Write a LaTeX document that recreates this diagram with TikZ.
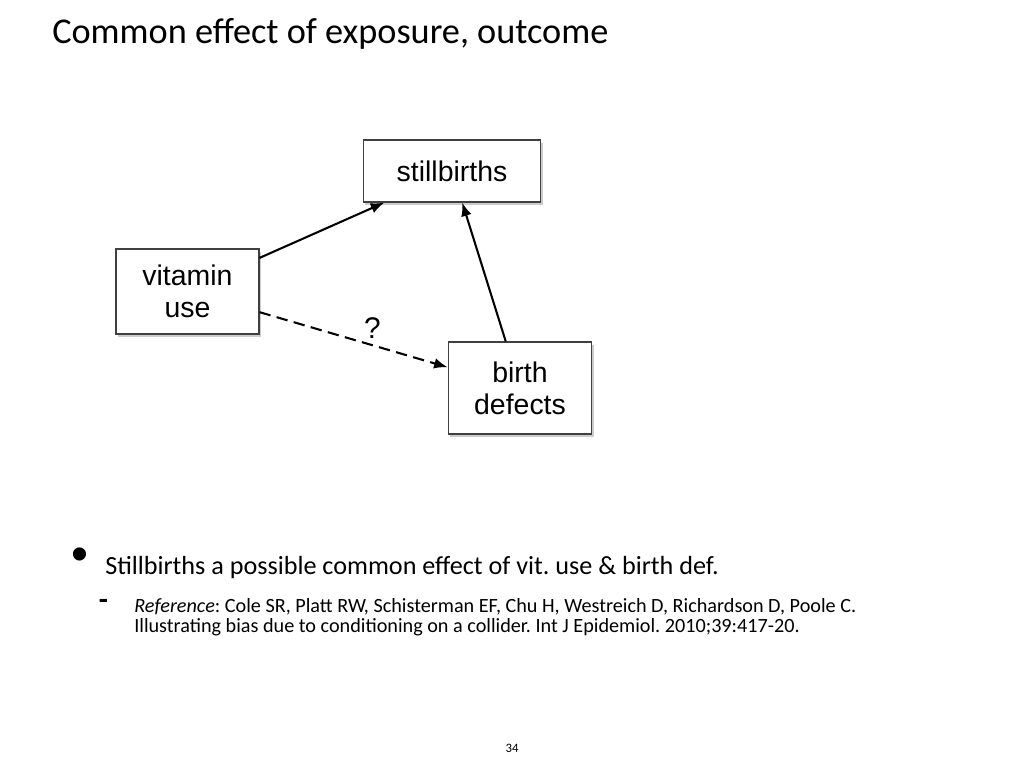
\documentclass[tikz,border=0pt]{standalone}
\usepackage{fontspec}
\setmainfont{Carlito}
\newfontfamily\boxfont{Liberation Sans}
\usetikzlibrary{arrows.meta, shadows}

\tikzset{
  varbox/.style={draw=black!75, line width=0.8pt, fill=white, align=center,
    font=\boxfont\fontsize{20}{22.5}\selectfont,
    drop shadow={shadow xshift=1.4pt, shadow yshift=-2pt, opacity=0.4}},
  causal/.style={-{Latex[length=9.5pt,width=7.5pt]}, line width=1.45pt},
  maybe/.style={causal, dash pattern=on 8pt off 4.5pt},
  slidetext/.style={anchor=base west, inner sep=0pt},
}

\begin{document}
\frenchspacing
\begin{tikzpicture}[x=0.7031pt, y=-0.7031pt]
\useasboundingbox (0,0) rectangle (1024,768);
% title
\node[slidetext, font=\fontsize{25.5}{30}\selectfont] (title) at (52,43) {Common effect of exposure, outcome};
% variables
\node[varbox, minimum width=125pt, minimum height=43.6pt] (still) at (452,171) {stillbirths};
\node[varbox, minimum width=100.5pt, minimum height=59.8pt] (vitamin) at (187.5,291.5) {vitamin\\use};
\node[varbox, minimum width=101pt, minimum height=64.7pt] (defects) at (520,388) {birth\\defects};
% arrows
\draw[causal] (vitamin.25) -- (still.205);
\draw[causal] (defects.107) -- (still.288);
\draw[maybe] (vitamin.344) -- (defects.164)
  node[pos=0.6, above=1pt, font=\boxfont\fontsize{21}{24}\selectfont] (ques) {?};
% bullet point
\node[anchor=base, inner sep=0pt, font=\boxfont\fontsize{34}{34}\selectfont] (bullet) at (80,570) {•};
\node[slidetext, font=\fontsize{18.4}{22}\selectfont] (point) at (105,574) {Stillbirths a possible common effect of vit. use \& birth def.};
% reference
\node[anchor=base, inner sep=0pt, font=\bfseries\fontsize{21}{21}\selectfont] (dash) at (103.5,609) {-};
\node[slidetext, font=\fontsize{14.2}{17}\selectfont] (ref1) at (134,612)
  {\textit{Reference}: Cole SR, Platt RW, Schisterman EF, Chu H, Westreich D, Richardson D, Poole C.};
\node[slidetext, font=\fontsize{14.2}{17}\selectfont] (ref2) at (134,632)
  {Illustrating bias due to conditioning on a collider. Int J Epidemiol. 2010;39:417-20.};
% page number
\node[anchor=base, inner sep=0pt, font=\fontsize{9}{10}\selectfont] (page) at (512,752) {34};
\end{tikzpicture}
\end{document}
